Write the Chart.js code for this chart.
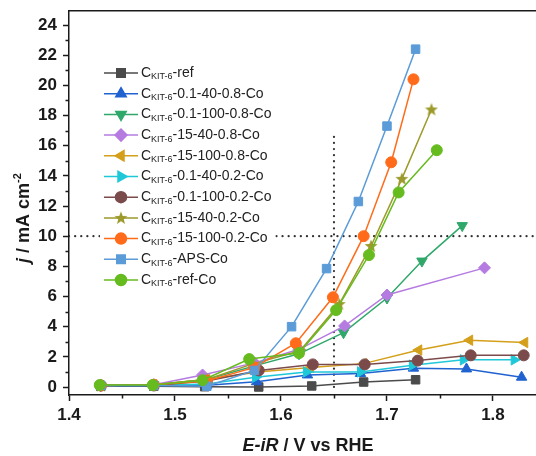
<!DOCTYPE html>
<html>
<head>
<meta charset="utf-8">
<title>LSV curves</title>
<script src="https://cdn.jsdelivr.net/npm/chart.js@4.4.1/dist/chart.umd.min.js"></script>
<style>
  html, body { margin: 0; padding: 0; background: #fff; overflow: hidden; }
  #wrap { position: relative; width: 536px; height: 456px; overflow: hidden; }
  #lsvChart { display: block; }
</style>
</head>
<body>
<div id="wrap"><canvas id="lsvChart"></canvas></div>
<script>
// Polarisation curves, values
// x = E-iR (V vs RHE), y = j (mA cm-2)
const seriesNames = [
    '-ref', '-0.1-40-0.8-Co', '-0.1-100-0.8-Co', '-15-40-0.8-Co', '-15-100-0.8-Co',
    '-0.1-40-0.2-Co', '-0.1-100-0.2-Co', '-15-40-0.2-Co', '-15-100-0.2-Co', '-APS-Co', '-ref-Co'
];

const xRef = [1.43, 1.48, 1.528, 1.579, 1.629, 1.678, 1.727];
const jRef = [0.05, 0.05, 0.02, 0.0, 0.07, 0.33, 0.48];

const x01_40_08 = [1.43, 1.48, 1.53, 1.577, 1.625, 1.675, 1.725, 1.775, 1.827];
const j01_40_08 = [0.08, 0.1, 0.12, 0.35, 0.8, 0.9, 1.25, 1.2, 0.65];

const x01_100_08 = [1.43, 1.48, 1.53, 1.575, 1.617, 1.659, 1.70, 1.733, 1.771];
const j01_100_08 = [0.1, 0.15, 0.5, 1.4, 2.2, 3.6, 5.9, 8.35, 10.7];

const x15_40_08 = [1.43, 1.48, 1.526, 1.575, 1.617, 1.66, 1.70, 1.792];
const j15_40_08 = [0.1, 0.15, 0.8, 1.6, 2.5, 4.05, 6.1, 7.9];

const x15_100_08 = [1.43, 1.48, 1.53, 1.578, 1.628, 1.678, 1.730, 1.778, 1.830];
const j15_100_08 = [0.1, 0.15, 0.5, 1.0, 1.3, 1.55, 2.45, 3.1, 2.95];

const x01_40_02 = [1.43, 1.48, 1.53, 1.576, 1.624, 1.675, 1.724, 1.772, 1.82];
const j01_40_02 = [0.1, 0.1, 0.2, 0.65, 1.0, 1.0, 1.45, 1.8, 1.8];

const x01_100_02 = [1.43, 1.48, 1.53, 1.579, 1.630, 1.679, 1.729, 1.779, 1.829];
const j01_100_02 = [0.1, 0.1, 0.4, 1.1, 1.5, 1.5, 1.75, 2.1, 2.1];

const x15_40_02 = [1.43, 1.48, 1.53, 1.572, 1.618, 1.655, 1.685, 1.714, 1.742];
const j15_40_02 = [0.1, 0.15, 0.5, 1.5, 2.4, 5.5, 9.35, 13.8, 18.4];

const x15_100_02 = [1.43, 1.48, 1.53, 1.575, 1.614, 1.649, 1.678, 1.704, 1.725];
const j15_100_02 = [0.1, 0.15, 0.4, 1.3, 2.9, 5.95, 10.0, 14.9, 20.4];

const xAps = [1.43, 1.48, 1.53, 1.575, 1.61, 1.643, 1.673, 1.70, 1.727];
const jAps = [0.1, 0.1, 0.05, 1.1, 4.0, 7.85, 12.3, 17.3, 22.4];

const xRefCo = [1.429, 1.479, 1.526, 1.570, 1.617, 1.652, 1.683, 1.711, 1.747];
const jRefCo = [0.13, 0.13, 0.45, 1.85, 2.25, 5.1, 8.75, 12.9, 15.7];

const xTicks = [1.4, 1.5, 1.6, 1.7, 1.8];
const yTicks = [0, 2, 4, 6, 8, 10, 12, 14, 16, 18, 20, 22, 24];

// dotted guides: E at j = 10 mA cm-2
const guideX = [1.65, 1.65];
const guideXj = [0, 16.6];
const guideYx = [1.4, 1.85];
const guideY = [10, 10];

const xMin = 1.4, xMax = 1.8406, yMin = -0.53, yMax = 24.93;

function pts(xs, ys) {
    return xs.map(function(x, i) { return { x: x, y: ys[i] }; });
}

// filled five-point star for the 15-40-0.2 sample
function starImage(color) {
    const c = document.createElement('canvas');
    c.width = 14; c.height = 14;
    const g = c.getContext('2d');
    g.fillStyle = color;
    g.beginPath();
    for (let i = 0; i < 10; i++) {
        const r = i % 2 === 0 ? 6.8 : 2.9;
        const a = -Math.PI / 2 + i * Math.PI / 5;
        g.lineTo(7 + r * Math.cos(a), 7.4 + r * Math.sin(a));
    }
    g.closePath();
    g.fill();
    return c;
}

const styles = [
    { color: '#4b4b4b', style: 'rect', rot: 0, r: 6 },
    { color: '#1f62d0', style: 'triangle', rot: 0, r: 6 },
    { color: '#2fa86a', style: 'triangle', rot: 180, r: 6 },
    { color: '#b57be0', style: 'rectRot', rot: 0, r: 6 },
    { color: '#d49f1a', style: 'triangle', rot: -90, r: 6 },
    { color: '#1ec8d8', style: 'triangle', rot: 90, r: 6 },
    { color: '#7b4b4b', style: 'circle', rot: 0, r: 5.5 },
    { color: '#9c9a2a', style: starImage('#9c9a2a'), rot: 0, r: 6 },
    { color: '#ff6b1a', style: 'circle', rot: 0, r: 5.5 },
    { color: '#5a9bd8', style: 'rect', rot: 0, r: 6 },
    { color: '#66bb1e', style: 'circle', rot: 0, r: 5.5 }
];

const seriesData = [
    pts(xRef, jRef), pts(x01_40_08, j01_40_08), pts(x01_100_08, j01_100_08),
    pts(x15_40_08, j15_40_08), pts(x15_100_08, j15_100_08), pts(x01_40_02, j01_40_02),
    pts(x01_100_02, j01_100_02), pts(x15_40_02, j15_40_02), pts(x15_100_02, j15_100_02),
    pts(xAps, jAps), pts(xRefCo, jRefCo)
];

const datasets = seriesData.map(function(d, i) {
    const s = styles[i];
    return {
        label: 'CKIT-6' + seriesNames[i],
        data: d,
        borderColor: s.color,
        backgroundColor: s.color,
        borderWidth: 1.5,
        pointStyle: s.style,
        pointRotation: s.rot,
        pointRadius: s.r,
        pointBorderWidth: 1,
        tension: 0,
        order: 20 - i // later samples on top, like the original
    };
});

const guideStyle = {
    borderColor: '#333',
    borderWidth: 2.2,
    borderDash: [0.1, 6],
    borderCapStyle: 'round',
    pointRadius: 0,
    tension: 0,
    order: 50
};
datasets.push(Object.assign({ label: 'guideV', data: pts(guideX, guideXj) }, guideStyle));
datasets.push(Object.assign({ label: 'guideH', data: pts(guideYx, guideY) }, guideStyle));

const AXIS = '#1a1a1a';
const tickFont = { family: 'Liberation Sans, Arial, sans-serif', size: 17, weight: 'bold' };

function noPad(s) {
    s.paddingLeft = 0; s.paddingRight = 0; s.paddingTop = 0; s.paddingBottom = 0;
}

// legend with subscripts, axis titles and minor ticks
const decorPlugin = {
    id: 'decor',
    afterDatasetsDraw: function(chart) {
        const ctx = chart.ctx;
        const x0 = 104, lineEnd = 138, textX = 141, top = 73, step = 20.7;
        const mainF = '14px Liberation Sans, Arial, sans-serif';
        const subF = '9px Liberation Sans, Arial, sans-serif';
        ctx.save();
        let maxEnd = 0;
        seriesNames.forEach(function(n) {
            ctx.font = mainF;
            let w = ctx.measureText('C').width + ctx.measureText(n).width;
            ctx.font = subF;
            w += ctx.measureText('KIT-6').width;
            maxEnd = Math.max(maxEnd, textX + w);
        });
        ctx.fillStyle = '#fff';
        ctx.fillRect(x0 - 4, top - 11, maxEnd - x0 + 8, step * 10 + 22);

        seriesNames.forEach(function(n, i) {
            const s = styles[i];
            const y = top + i * step;
            ctx.strokeStyle = s.color;
            ctx.lineWidth = 1.5;
            ctx.setLineDash([]);
            ctx.beginPath();
            ctx.moveTo(x0, y);
            ctx.lineTo(lineEnd, y);
            ctx.stroke();
            ctx.fillStyle = s.color;
            Chart.helpers.drawPoint(ctx, { pointStyle: s.style, rotation: s.rot, radius: s.r, borderWidth: 1 }, (x0 + lineEnd) / 2, y);

            ctx.fillStyle = '#222';
            ctx.textBaseline = 'middle';
            ctx.textAlign = 'left';
            let tx = textX;
            ctx.font = mainF;
            ctx.fillText('C', tx, y);
            tx += ctx.measureText('C').width;
            ctx.font = subF;
            ctx.fillText('KIT-6', tx, y + 4);
            tx += ctx.measureText('KIT-6').width;
            ctx.font = mainF;
            ctx.fillText(n, tx, y);
        });
        ctx.restore();
    },
    afterDraw: function(chart) {
        const ctx = chart.ctx;
        const xs = chart.scales.x, ys = chart.scales.y;
        const area = chart.chartArea;
        ctx.save();
        // minor ticks
        ctx.strokeStyle = AXIS;
        ctx.lineWidth = 1.5;
        ctx.beginPath();
        for (let v = 1.45; v < xMax; v += 0.1) {
            const px = Math.round(xs.getPixelForValue(v)) + 0.5;
            ctx.moveTo(px, area.bottom);
            ctx.lineTo(px, area.bottom + 3.5);
        }
        for (let v = 1; v < yMax; v += 2) {
            const py = Math.round(ys.getPixelForValue(v)) + 0.5;
            ctx.moveTo(area.left, py);
            ctx.lineTo(area.left - 3.5, py);
        }
        ctx.stroke();

        // x title: E-iR / V vs RHE
        ctx.fillStyle = '#1a1a1a';
        ctx.textBaseline = 'middle';
        ctx.textAlign = 'left';
        const fI = 'italic bold 18px Liberation Sans, Arial, sans-serif';
        const fB = 'bold 18px Liberation Sans, Arial, sans-serif';
        ctx.font = fI;
        const w1 = ctx.measureText('E-iR').width;
        ctx.font = fB;
        const w2 = ctx.measureText(' / V vs RHE').width;
        const tx = 308 - (w1 + w2) / 2;
        ctx.font = fI;
        ctx.fillText('E-iR', tx, 446);
        ctx.font = fB;
        ctx.fillText(' / V vs RHE', tx + w1, 446);

        // y title: j / mA cm-2
        ctx.translate(24, 218);
        ctx.rotate(-Math.PI / 2);
        ctx.font = fI;
        const a1 = ctx.measureText('j').width;
        ctx.font = fB;
        const a2 = ctx.measureText(' / mA cm').width;
        ctx.font = 'bold 11px Liberation Sans, Arial, sans-serif';
        const a3 = ctx.measureText('-2').width;
        const ty = -(a1 + a2 + a3) / 2;
        ctx.font = fI;
        ctx.fillText('j', ty, 0);
        ctx.font = fB;
        ctx.fillText(' / mA cm', ty + a1, 0);
        ctx.font = 'bold 11px Liberation Sans, Arial, sans-serif';
        ctx.fillText('-2', ty + a1 + a2, -6);
        ctx.restore();
    }
};

new Chart(document.getElementById('lsvChart').getContext('2d'), {
    type: 'line',
    data: { datasets: datasets },
    plugins: [decorPlugin],
    options: {
        responsive: true,
        maintainAspectRatio: false,
        animation: false,
        events: [],
        layout: { padding: 0, autoPadding: false },
        plugins: { legend: { display: false }, tooltip: { enabled: false } },
        scales: {
            x: {
                type: 'linear',
                position: 'bottom',
                min: xMin,
                max: xMax,
                afterBuildTicks: function(s) { s.ticks = xTicks.map(function(v) { return { value: v }; }); },
                afterFit: function(s) { s.height = 61; noPad(s); },
                ticks: {
                    color: '#1a1a1a',
                    font: tickFont,
                    padding: 4,
                    maxRotation: 0,
                    callback: function(v) { return v.toFixed(1); }
                },
                grid: { drawOnChartArea: false, tickLength: 6, tickColor: AXIS, tickWidth: 1.5 },
                border: { color: AXIS, width: 1.5 }
            },
            x2: {
                type: 'linear',
                position: 'top',
                min: xMin,
                max: xMax,
                afterFit: function(s) { s.height = 11; noPad(s); },
                ticks: { display: false },
                grid: { display: false },
                border: { display: true, color: AXIS, width: 1.5 }
            },
            y: {
                type: 'linear',
                min: yMin,
                max: yMax,
                afterBuildTicks: function(s) { s.ticks = yTicks.map(function(v) { return { value: v }; }); },
                afterFit: function(s) { s.width = 69; noPad(s); },
                ticks: { color: '#1a1a1a', font: tickFont, padding: 6 },
                grid: { drawOnChartArea: false, tickLength: 6, tickColor: AXIS, tickWidth: 1.5 },
                border: { color: AXIS, width: 1.5 }
            }
        }
    }
});
</script>
</body>
</html>
